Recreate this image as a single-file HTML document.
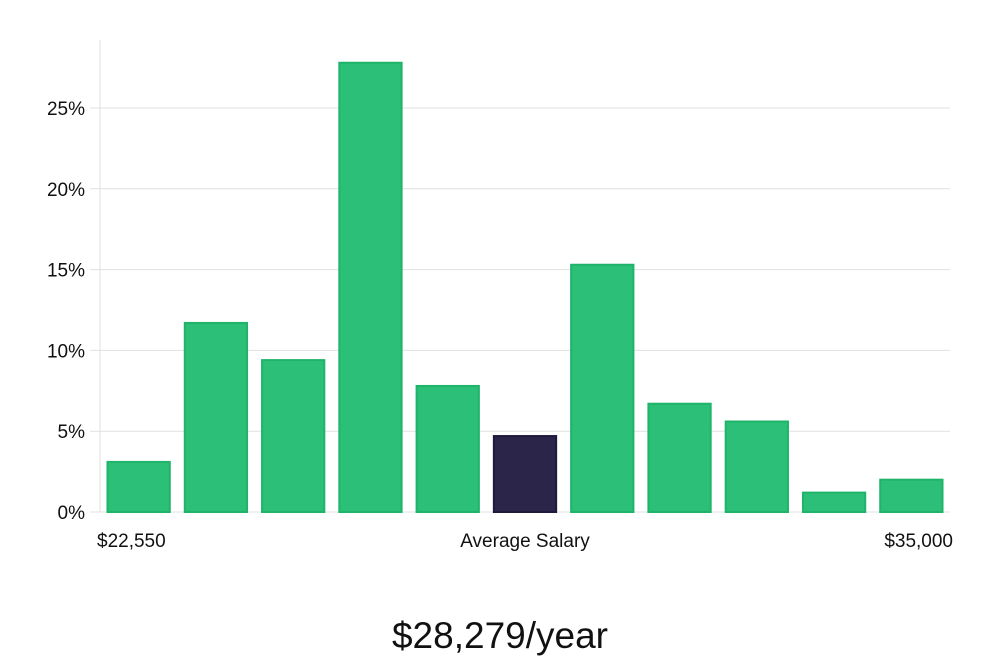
<!DOCTYPE html>
<html><head><meta charset="utf-8"><style>
body{margin:0;background:#fff;width:1000px;height:660px;overflow:hidden;font-family:"Liberation Sans",sans-serif}
</style></head><body>
<svg id="chart" width="1000" height="660" xmlns="http://www.w3.org/2000/svg">
<g id="grid"></g>
<g id="bars"></g>
<line x1="100" y1="40" x2="100" y2="512" stroke="#e0e0e0" stroke-width="1"/>
<g id="yt"></g>
<text x="97" y="547" font-size="19" fill="#111">$22,550</text>
<text x="525" y="547" font-size="19" fill="#111" text-anchor="middle">Average Salary</text>
<text x="953" y="547" font-size="19" fill="#111" text-anchor="end">$35,000</text>
<text x="500" y="648" font-size="37" fill="#111" text-anchor="middle">$28,279/year</text>
</svg>
<script>
const values=[3.1,11.7,9.4,27.8,7.8,4.7,15.3,6.7,5.6,1.2,2.0];
const highlight=[false,false,false,false,false,true,false,false,false,false,false];
const ticks=[0,5,10,15,20,25];
const tickLabels=["0%","5%","10%","15%","20%","25%"];
const NS="http://www.w3.org/2000/svg";
const x0=100,x1=950,y0=512,pxPer=(512-108)/25;
const y=v=>y0-v*pxPer;
const slot=(x1-x0)/values.length;
const grid=document.getElementById('grid'),bars=document.getElementById('bars'),yt=document.getElementById('yt');
ticks.forEach((t,i)=>{
 const l=document.createElementNS(NS,'line');
 
 
 l.setAttribute('x1',x0-10);l.setAttribute('x2',x1);l.setAttribute('y1',y(t));l.setAttribute('y2',y(t));
 l.setAttribute('stroke','#e0e0e0');grid.appendChild(l);
 const tx=document.createElementNS(NS,'text');
 
 
 tx.setAttribute('x',85);tx.setAttribute('y',y(t)+7);tx.setAttribute('text-anchor','end');
 tx.setAttribute('font-size','19');tx.setAttribute('fill','#111');tx.textContent=tickLabels[i];yt.appendChild(tx);
});
values.forEach((v,i)=>{
 const r=document.createElementNS(NS,'rect');
 
 
 r.setAttribute('x',x0+i*slot+7.5);r.setAttribute('width',slot-15);
 r.setAttribute('y',y(v));r.setAttribute('height',v*pxPer);
 r.setAttribute('fill',highlight[i]?'#2a2549':'#2bbf77');
 r.setAttribute('stroke',highlight[i]?'#1e1a3c':'#1fb46a');r.setAttribute('stroke-width','2');
 bars.appendChild(r);
});
</script>
</body></html>
